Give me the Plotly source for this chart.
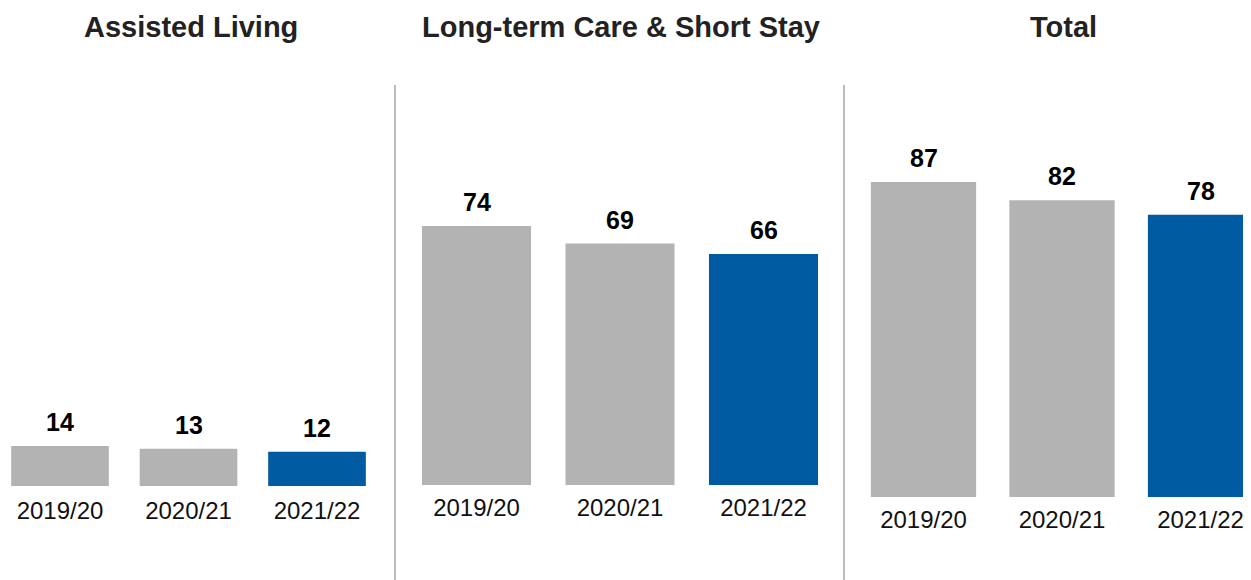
import plotly.graph_objects as go

# The page body adds an 8px margin; work in reference pixels and subtract it.
OFF = 8
W_REF, H_REF = 1251, 580
W, H = W_REF - OFF, H_REF - OFF

categories = ["2019/20", "2020/21", "2021/22"]
assisted_living = [14, 13, 12]
long_term_care = [74, 69, 66]
total = [87, 82, 78]
panel_titles = ["Assisted Living", "Long-term Care & Short Stay", "Total"]
bar_colors = ["#b3b3b3", "#b3b3b3", "#005ba2"]
series = [assisted_living, long_term_care, total]

FONT = "Liberation Sans, Arial, sans-serif"

# panel geometry in reference pixels: first bar center, category spacing,
# domain left/right, baseline pixel, px per unit, tick-label standoff
geometry = [
    dict(c0=60, step=128.5, d0=0, d1=392, base=486, ppu=2.86, stand=8),
    dict(c0=476.5, step=143.5, d0=404.75, d1=835.25, base=485, ppu=3.5, stand=6),
    dict(c0=923.5, step=138.5, d0=854.25, d1=1251, base=497, ppu=3.62, stand=6),
]

def px(x):
    return min(max((x - OFF) / W, 0), 1)

fig = go.Figure()
layout_axes = {}
annotations = []

for i, (vals, g) in enumerate(zip(series, geometry)):
    n = "" if i == 0 else str(i + 1)
    xa, ya = "x" + n, "y" + n
    fig.add_trace(go.Bar(
        x=list(range(len(categories))), y=vals,
        marker=dict(color=bar_colors, line=dict(width=0)),
        xaxis=xa, yaxis=ya, showlegend=False, hoverinfo="skip",
    ))
    d0 = max(g["d0"], OFF)
    d1 = g["d1"]
    r0 = (d0 - g["c0"]) / g["step"]
    r1 = (d1 - g["c0"]) / g["step"]
    base = g["base"] - OFF
    y0 = -(H - base) / g["ppu"]
    y1 = base / g["ppu"]
    layout_axes["xaxis" + n] = dict(
        domain=[px(d0), px(d1)], range=[r0, r1],
        anchor="free", position=(H - base) / H,
        tickmode="array", tickvals=list(range(len(categories))), ticktext=categories,
        showline=False, showgrid=False, zeroline=False, ticks="",
        tickfont=dict(family=FONT, size=24, color="#111111"),
        ticklabelstandoff=g["stand"], fixedrange=True,
    )
    layout_axes["yaxis" + n] = dict(
        domain=[0, 1], range=[y0, y1], visible=False, fixedrange=True,
        anchor=xa,
    )
    for j, v in enumerate(vals):
        annotations.append(dict(
            x=j, y=v, xref=xa, yref=ya, text=f"<b>{v}</b>", showarrow=False,
            yanchor="bottom", yshift=8,
            font=dict(family=FONT, size=25, color="#000000"),
        ))

title_centers = [191, 621, 1063]
for t, cx in zip(panel_titles, title_centers):
    annotations.append(dict(
        x=px(cx), y=1 - (27 - OFF) / H, xref="paper", yref="paper", text=f"<b>{t}</b>",
        showarrow=False, xanchor="center", yanchor="middle",
        font=dict(family=FONT, size=29, color="#222222"),
    ))

shapes = []
for xp in [395, 844]:
    shapes.append(dict(
        type="line", xref="paper", yref="paper",
        x0=px(xp), x1=px(xp), y0=0, y1=(H_REF - 85) / H,
        line=dict(color="#a6a6a6", width=1.5),
    ))

fig.update_layout(
    width=W, height=H,
    margin=dict(l=0, r=0, t=0, b=0),
    paper_bgcolor="white", plot_bgcolor="white",
    bargap=0.24,
    annotations=annotations, shapes=shapes,
    font=dict(family=FONT),
    **layout_axes,
)

fig.write_html("out.html", config={"displayModeBar": False})
